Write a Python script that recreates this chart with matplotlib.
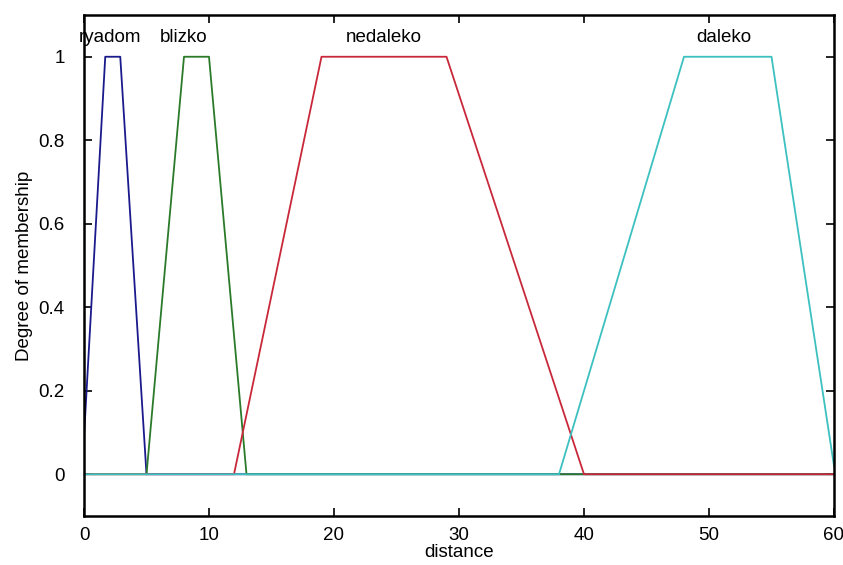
import matplotlib
matplotlib.use("Agg")
import matplotlib.pyplot as plt

plt.rcParams['font.family'] = ['Liberation Sans', 'DejaVu Sans']

# membership function vertices (x, y)
names = ["ryadom", "blizko", "nedaleko", "daleko"]
ryadom_x = [0, 1.7, 2.9, 5.0, 60]
ryadom_y = [0.09, 1, 1, 0, 0]
blizko_x = [0, 5, 8, 10, 13, 60]
blizko_y = [0, 0, 1, 1, 0, 0]
nedaleko_x = [0, 12, 19, 29, 40, 60]
nedaleko_y = [0, 0, 1, 1, 0, 0]
daleko_x = [0, 38, 48, 55, 60]
daleko_y = [0, 0, 1, 1, 0.02]
label_x = [2.1, 8.0, 24.0, 51.2]
label_y = 1.045
colors = ["#1a1a8c", "#2a7a2a", "#c8283a", "#3cc0c0"]

fig = plt.figure(figsize=(8.43, 5.65), dpi=100)
ax = fig.add_axes([84/843, 1 - 516/565, 750/843, 501/565])

series = [(ryadom_x, ryadom_y), (blizko_x, blizko_y),
          (nedaleko_x, nedaleko_y), (daleko_x, daleko_y)]
for (xs, ys), c in zip(series, colors):
    ax.plot(xs, ys, color=c, lw=1.3)

for n, lx in zip(names, label_x):
    ax.text(lx, label_y, n, ha="center", va="center", fontsize=13.5)

ax.set_xlim(0, 60)
ax.set_ylim(-0.1, 1.1)
ax.set_xticks([0, 10, 20, 30, 40, 50, 60])
ax.set_yticks([0, 0.2, 0.4, 0.6, 0.8, 1])
ax.set_yticklabels(["0", "0.2", "0.4", "0.6", "0.8", "1"])
ax.tick_params(direction="in", top=True, right=True, labelsize=13.5, length=6, width=1.2)
ax.tick_params(axis="y", pad=14)
ax.tick_params(axis="x", pad=8)
for s in ax.spines.values():
    s.set_linewidth(1.8)
ax.set_xlabel("distance", fontsize=13.5, labelpad=0)
ax.set_ylabel("Degree of membership", fontsize=13.5, labelpad=4)

fig.savefig("out.png", dpi=100)
